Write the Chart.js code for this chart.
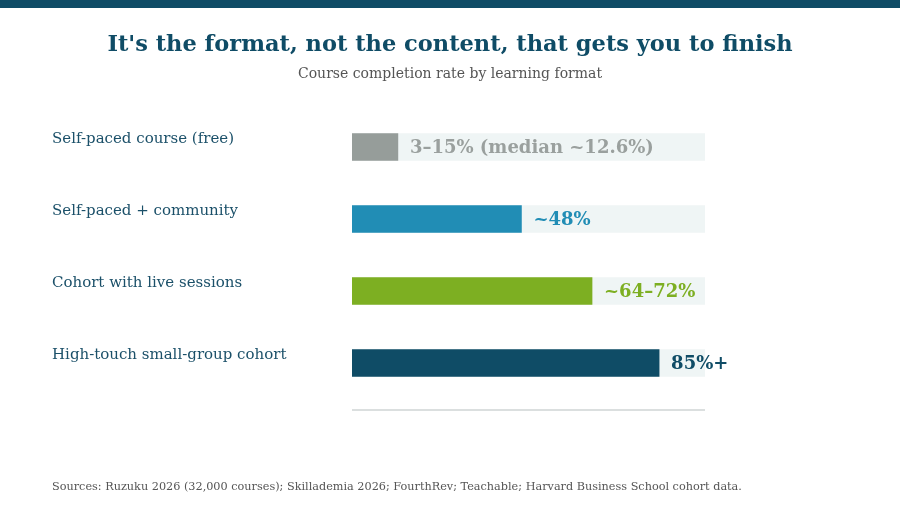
<!DOCTYPE html>
<html>
<head>
<meta charset="utf-8">
<script src="https://cdn.jsdelivr.net/npm/chart.js@4.4.1/dist/chart.umd.min.js"></script>
<style>
  html, body { margin: 0; padding: 0; background: #fff; }
  #wrap { width: 900px; height: 510px; position: relative; }
</style>
</head>
<body>
<div id="wrap"><canvas id="Plot" width="900" height="510"></canvas></div>
<script>
// chart values
var formats = ["Self-paced course (free)", "Self-paced + community", "Cohort with live sessions", "High-touch small-group cohort"];
var completion = [13, 48, 68, 87];
var valueLabels = ["3\u201315% (median ~12.6%)", "~48%", "~64\u201372%", "85%+"];
var track = [100, 100, 100, 100];
var barColors = ["#969d9a", "#218db5", "#7daf22", "#0f4c66"];
var labelColors = ["#9aa09e", "#218db5", "#7daf22", "#0f4c66"];

var titleText = "It's the format, not the content, that gets you to finish";
var subtitleText = "Course completion rate by learning format";
var sourceText = "Sources: Ruzuku 2026 (32,000 courses); Skillademia 2026; FourthRev; Teachable; Harvard Business School cohort data.";

var SERIF = "'DejaVu Serif', serif";

var decor = {
  id: 'decor',
  afterDraw: function(chart) {
    var c = chart.ctx;
    var area = chart.chartArea;
    var yScale = chart.scales.y;
    var xScale = chart.scales.x;
    c.save();
    // top stripe
    c.fillStyle = "#0f4c66";
    c.fillRect(0, 0, chart.width, 8);
    // title + subtitle
    c.textAlign = "center";
    c.textBaseline = "middle";
    c.fillStyle = "#0f4c66";
    c.font = "bold 22.5px " + SERIF;
    c.fillText(titleText, chart.width / 2, 45);
    c.fillStyle = "#555555";
    c.font = "14px " + SERIF;
    c.fillText(subtitleText, chart.width / 2, 74);
    // category labels, above bar centre
    c.textAlign = "left";
    c.font = "15px " + SERIF;
    c.fillStyle = "#1b5069";
    formats.forEach(function(f, i) {
      c.fillText(f, 52, yScale.getPixelForValue(i) - 8);
    });
    // value labels at bar end
    c.font = "bold 18px " + SERIF;
    completion.forEach(function(v, i) {
      c.fillStyle = labelColors[i];
      c.fillText(valueLabels[i], xScale.getPixelForValue(v) + 12, yScale.getPixelForValue(i) + 1);
    });
    // baseline
    c.strokeStyle = "#cfd4d4";
    c.lineWidth = 1.5;
    c.beginPath();
    c.moveTo(area.left, area.bottom + 11);
    c.lineTo(area.right, area.bottom + 11);
    c.stroke();
    // source
    c.fillStyle = "#555555";
    c.font = "11.25px " + SERIF;
    c.fillText(sourceText, 52, 487);
    c.restore();
  }
};

var myChart = new Chart(document.getElementById("Plot").getContext('2d'), {
  type: 'bar',
  data: {
    labels: formats,
    datasets: [{
      data: completion,
      backgroundColor: barColors,
      borderWidth: 0,
      barThickness: 27,
      grouped: false,
      order: 1
    }, {
      data: track,
      backgroundColor: "#eff5f5",
      borderWidth: 0,
      barThickness: 27,
      grouped: false,
      order: 2
    }]
  },
  options: {
    indexAxis: 'y',
    responsive: false,
    animation: false,
    layout: { padding: { left: 352, right: 195, top: 111, bottom: 111 } },
    plugins: {
      legend: { display: false },
      tooltip: { enabled: false },
      title: { display: false }
    },
    scales: {
      x: { display: false, min: 0, max: 100 },
      y: { display: false }
    }
  },
  plugins: [decor]
});
</script>
</body>
</html>
